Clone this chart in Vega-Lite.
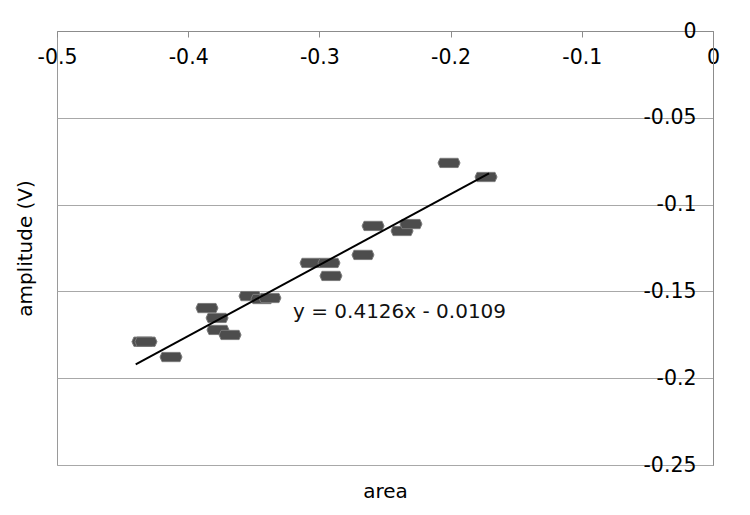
{
  "$schema": "https://vega.github.io/schema/vega-lite/v6.json",
  "width": 656,
  "height": 434,
  "autosize": {"type": "none"},
  "padding": {"left": 57, "top": 31, "right": 37, "bottom": 50},
  "background": "white",
  "config": {
    "view": {"stroke": "#9a9a9a", "strokeWidth": 1},
    "font": "DejaVu Sans"
  },
  "datasets": {
    "points": [
      {"area": -0.4345, "amplitude": -0.179},
      {"area": -0.4322, "amplitude": -0.179},
      {"area": -0.4131, "amplitude": -0.1878},
      {"area": -0.3857, "amplitude": -0.1596},
      {"area": -0.378, "amplitude": -0.1653},
      {"area": -0.3773, "amplitude": -0.1722},
      {"area": -0.3681, "amplitude": -0.1751},
      {"area": -0.3529, "amplitude": -0.1527},
      {"area": -0.3438, "amplitude": -0.1544},
      {"area": -0.3377, "amplitude": -0.1538},
      {"area": -0.3064, "amplitude": -0.1336},
      {"area": -0.2927, "amplitude": -0.1336},
      {"area": -0.2912, "amplitude": -0.1411},
      {"area": -0.2668, "amplitude": -0.129},
      {"area": -0.2591, "amplitude": -0.1123},
      {"area": -0.237, "amplitude": -0.1152},
      {"area": -0.2302, "amplitude": -0.1112},
      {"area": -0.2012, "amplitude": -0.076},
      {"area": -0.173, "amplitude": -0.0841}
    ],
    "trend": [
      {"area": -0.44, "amplitude": -0.192},
      {"area": -0.1707, "amplitude": -0.082}
    ],
    "equation": [
      {"area": -0.3201, "amplitude": -0.1619, "label": "y = 0.4126x - 0.0109"}
    ]
  },
  "layer": [
    {
      "data": {"name": "points"},
      "mark": {
        "type": "point",
        "shape": "M-1,0L-0.82,-0.42L0.82,-0.42L1,0L0.82,0.42L-0.82,0.42Z",
        "size": 484,
        "filled": true,
        "fill": "#4d4d4d",
        "stroke": "#7a7a7a",
        "strokeWidth": 1,
        "opacity": 1
      },
      "encoding": {
        "x": {
          "field": "area",
          "type": "quantitative",
          "scale": {"domain": [-0.5, 0], "nice": false, "zero": false},
          "axis": {
            "orient": "top",
            "title": null,
            "values": [-0.5, -0.4, -0.3, -0.2, -0.1, 0],
            "labelExpr": "datum.value == 0 ? '0' : '-' + format(-datum.value, '~g')",
            "grid": false,
            "domainColor": "#8c8c8c",
            "tickColor": "#8c8c8c",
            "tickSize": -6,
            "tickWidth": 1,
            "labelPadding": -20,
            "labelBaseline": "middle",
            "labelFlush": false,
            "labelOverlap": false,
            "labelBound": false,
            "labelFontSize": 20.5,
            "labelColor": "#000000",
            "labelFont": "DejaVu Sans"
          }
        },
        "y": {
          "field": "amplitude",
          "type": "quantitative",
          "scale": {"domain": [-0.25, 0], "nice": false, "zero": false},
          "axis": {
            "orient": "right",
            "title": null,
            "values": [-0.25, -0.2, -0.15, -0.1, -0.05, 0],
            "labelExpr": "datum.value == 0 ? '0' : '-' + format(-datum.value, '~g')",
            "grid": true,
            "gridColor": "#a8a8a8",
            "gridWidth": 1,
            "domainColor": "#8c8c8c",
            "ticks": false,
            "labelPadding": -17,
            "labelAlign": "right",
            "labelBaseline": "middle",
            "labelFlush": false,
            "labelOverlap": false,
            "labelBound": false,
            "labelFontSize": 20.5,
            "labelColor": "#000000",
            "labelFont": "DejaVu Sans"
          }
        }
      }
    },
    {
      "data": {"name": "trend"},
      "mark": {"type": "line", "color": "#000000", "strokeWidth": 2},
      "encoding": {
        "x": {"field": "area", "type": "quantitative", "axis": null},
        "y": {"field": "amplitude", "type": "quantitative", "axis": null}
      }
    },
    {
      "data": {"name": "equation"},
      "mark": {
        "type": "text",
        "align": "left",
        "baseline": "middle",
        "fontSize": 20,
        "font": "DejaVu Sans",
        "color": "#111111"
      },
      "encoding": {
        "x": {
          "field": "area",
          "type": "quantitative",
          "axis": {
            "orient": "bottom",
            "title": "area",
            "labels": false,
            "ticks": false,
            "domain": false,
            "grid": false,
            "titleFontSize": 20,
            "titleFontWeight": "normal",
            "titleFont": "DejaVu Sans",
            "titleColor": "#000000",
            "titlePadding": 16
          }
        },
        "y": {
          "field": "amplitude",
          "type": "quantitative",
          "axis": {
            "orient": "left",
            "title": "amplitude (V)",
            "labels": false,
            "ticks": false,
            "domain": false,
            "grid": false,
            "titleFontSize": 20,
            "titleFontWeight": "normal",
            "titleFont": "DejaVu Sans",
            "titleColor": "#000000",
            "titlePadding": 22
          }
        },
        "text": {"field": "label"}
      }
    }
  ]
}
